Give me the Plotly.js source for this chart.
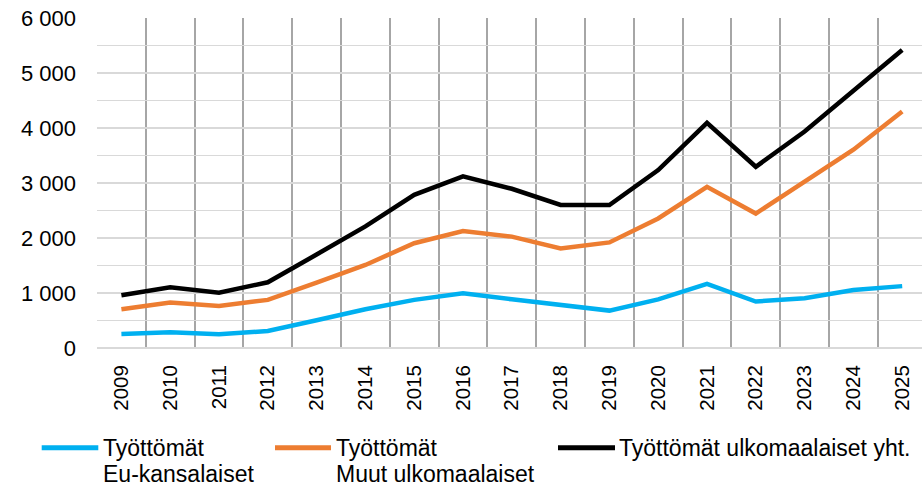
<!DOCTYPE html>
<html>
<head>
<meta charset="utf-8">
<script src="https://cdn.plot.ly/plotly-3.0.1.min.js"></script>
<style>html,body{margin:0;padding:0;background:#fff;}#chart{width:922px;height:491px;}</style>
</head>
<body>
<div id="chart"></div>
<script>
const years = [2009,2010,2011,2012,2013,2014,2015,2016,2017,2018,2019,2020,2021,2022,2023,2024,2025];
const euName = ["Työttömät", "Eu-kansalaiset"];
const muutName = ["Työttömät", "Muut ulkomaalaiset"];
const totalName = ["Työttömät ulkomaalaiset yht."];
const euValues    = [255, 285, 250, 310, 505, 705, 875, 995, 885, 785, 680, 885, 1165, 845, 905, 1055, 1125];
const muutValues  = [705, 825, 765, 875, 1190, 1510, 1905, 2125, 2025, 1810, 1920, 2355, 2930, 2445, 3025, 3605, 4300];
const totalValues = [960, 1105, 1005, 1195, 1700, 2210, 2785, 3120, 2895, 2600, 2600, 3235, 4095, 3295, 3935, 4665, 5420];
const colors = ["#00b0f0", "#ed7d31", "#000000"];
const FONT = "Liberation Sans, Arial, sans-serif";

const series = [
  {name: euName, y: euValues, color: colors[0]},
  {name: muutName, y: muutValues, color: colors[1]},
  {name: totalName, y: totalValues, color: colors[2]}
];

const traces = series.map(s => ({
  type: "scatter", mode: "lines", x: years, y: s.y, name: s.name.join(" "),
  line: {color: s.color, width: 4.5}, showlegend: false, hoverinfo: "x+y"
}));

// plot area in px
const L = 97, T = 18, R = 922, B = 348;
const W = R - L, H = B - T;
const px2x = p => (p - L) / W;
const py2y = p => (B - p) / H;

const legendSamples = [[41.7, 98.3], [275, 331], [558, 615]];
const legendTextX = [101, 334, 617];
const legendRowMid = [447.5, 474];
const shapes = [];
const annotations = [];
series.forEach((s, i) => {
  shapes.push({type: "line", xref: "paper", yref: "paper",
    x0: px2x(legendSamples[i][0]), x1: px2x(legendSamples[i][1]),
    y0: py2y(447.7), y1: py2y(447.7),
    line: {color: s.color, width: 5}});
  s.name.forEach((txt, r) => {
    annotations.push({xref: "paper", yref: "paper", x: px2x(legendTextX[i]), y: py2y(legendRowMid[r]),
      xanchor: "left", yanchor: "middle", align: "left", showarrow: false,
      text: txt, font: {family: FONT, size: 23, color: "#000"}});
  });
});

const layout = {
  width: 922, height: 491,
  margin: {l: L, r: 0, t: T, b: 491 - B, pad: 0},
  paper_bgcolor: "#fff", plot_bgcolor: "#fff",
  separators: ", ",
  font: {family: FONT, color: "#000"},
  xaxis: {
    range: [2008.5, 2008.5 + W / 48.8],
    tickmode: "array", tickvals: years, ticktext: years.map(String),
    tickangle: -90, tickfont: {family: FONT, size: 20.5, color: "#000"},
    ticks: "", showgrid: false, zeroline: false, showline: false,
    ticklabelstandoff: 12,
    minor: {tick0: 2008.5, dtick: 1, showgrid: true, gridcolor: "#a6a6a6", gridwidth: 2, ticks: ""},
    fixedrange: true
  },
  yaxis: {
    range: [0, 6000], dtick: 1000, tick0: 0, tickformat: ",d",
    tickfont: {family: FONT, size: 22, color: "#000"},
    ticks: "", showgrid: true, gridcolor: "#d9d9d9", gridwidth: 1.5,
    zeroline: true, zerolinecolor: "#d9d9d9", zerolinewidth: 2,
    showline: false, ticklabelstandoff: 20,
    minor: {dtick: 500, showgrid: true, gridcolor: "#d9d9d9", gridwidth: 1.5, ticks: ""},
    fixedrange: true
  },
  shapes: shapes,
  annotations: annotations
};

Plotly.newPlot("chart", traces, layout, {displayModeBar: false, staticPlot: true});
</script>
</body>
</html>
